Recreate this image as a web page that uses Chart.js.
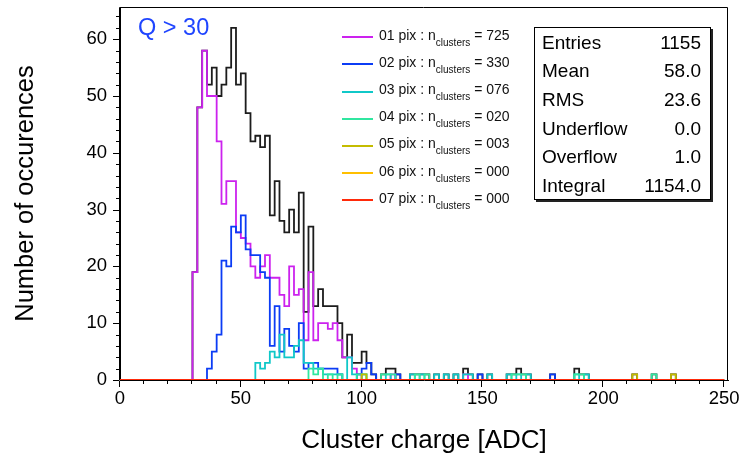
<!DOCTYPE html>
<html>
<head>
<meta charset="utf-8">
<script src="https://cdn.jsdelivr.net/npm/chart.js@4.4.1/dist/chart.umd.min.js"></script>
<style>
  html, body { margin: 0; padding: 0; background: #fff; }
  #wrap { position: relative; width: 744px; height: 466px; overflow: hidden; }
  #c { position: absolute; left: 0; top: 0; }
  .ov { font-family: "Liberation Sans", Arial, Helvetica, sans-serif; color: #000; }
  .qlabel { position: absolute; left: 138px; top: 16px; font-size: 23.5px; line-height: 23.5px; color: #1f45ff; white-space: nowrap; }
  .leg { position: absolute; left: 342px; width: 190px; height: 20px; }
  .leg .ln { position: absolute; left: 0; width: 31px; height: 0; border-top: 2px solid; }
  .leg .tx { position: absolute; left: 37px; font-size: 14px; line-height: 14px; white-space: nowrap; color: #111; }
  .leg .tx .sb { font-size: 10px; position: relative; top: 6px; }
  .stats { position: absolute; left: 534px; top: 27px; width: 175px; height: 171px; border: 1px solid #000;
           box-shadow: 2px 2px 0 #222; background: #fff; font-size: 19px; }
  .stats .row { position: absolute; left: 7px; right: 9px; height: 19px; line-height: 19px; white-space: nowrap; }
  .stats .row .v { position: absolute; right: 0; top: 0; }
</style>
</head>
<body>
<div id="wrap">
  <canvas id="c" width="744" height="466"></canvas>
  <div class="ov qlabel">Q &gt; 30</div>
  <div class="ov" id="legend"></div>
  <div class="ov stats" id="stats"></div>
</div>
<script>
// ---------------- data ----------------
const binWidth = 2;            // ADC units per bin
const nBins = 125;             // 0 .. 250 ADC
const coreFirstBin = 30;       // left edge of first bin in the core arrays (bins 30..98)

// counts per bin, bins 30-32, 32-34, ..., 98-100
const pix1Core  = [19,48,58,50,50,42,31,35,35,26,25,24,20,18,20,22,18,18,15,13,20,15,16,7,19,7,10,10,9,10,7,4,4,2,1];
const pix2Core  = [0,0,0,2,5,8,21,20,27,26,29,23,22,22,19,18,6,13,5,9,6,5,10,2,3,3,2,2,2,2,1,0,0,0,1];
const pix3Core  = [0,0,0,0,0,0,0,0,0,0,0,0,0,3,2,3,5,4,8,4,4,6,7,3,3,2,2,1,1,1,1,0,4,1,0];
const pix4Core  = [0,0,0,0,0,0,0,0,0,0,0,0,0,0,0,0,0,0,0,0,0,0,0,0,2,1,2,0,1,0,1,0,0,0,1];
const pix5Core  = [];
const pix6Core  = [];
const pix7Core  = [];
const totalCore = [19,48,58,52,55,50,52,55,62,52,54,47,42,43,41,43,29,35,28,26,30,26,33,12,27,13,16,13,13,13,10,4,8,3,3];

// isolated entries above 100 ADC: [bin left edge, count]
const pix1Tail  = [[112,1],[142,1]];
const pix2Tail  = [[100,2],[102,3],[104,1],[114,1],[148,1],[178,1]];
const pix3Tail  = [[100,1],[110,1],[120,1],[124,1],[130,1],[134,1],[138,1],[142,1],[144,1],[152,1],[160,1],[164,1],[168,1],[188,1],[192,1]];
const pix4Tail  = [[100,1],[108,1],[110,1],[112,1],[122,1],[126,1],[162,1],[164,1],[166,1],[188,1],[190,1],[220,1]];
const pix5Tail  = [[100,1],[212,1],[228,1]];
const pix6Tail  = [];
const pix7Tail  = [];
const totalTail = [[100,5],[102,3],[104,1],[108,1],[110,2],[112,2],[114,1],[120,1],[122,1],[124,1],[126,1],[130,1],[134,1],[138,1],[142,2],[144,1],[148,1],[152,1],[160,1],[162,1],[164,2],[166,1],[168,1],[178,1],[188,2],[190,1],[192,1],[212,1],[220,1],[228,1]];

const seriesNames    = ['01 pix','02 pix','03 pix','04 pix','05 pix','06 pix','07 pix'];
const clusterCounts  = ['725','330','076','020','003','000','000'];
const seriesColors   = ['#cc22ee','#0b3cf5','#10c8c8','#30e6a0','#c4bc00','#ffbf00','#ff2a0a'];
const totalColor     = '#1c1c1c';

const statsLabels = ['Entries','Mean','RMS','Underflow','Overflow','Integral'];
const statsValues = ['1155','58.0','23.6','0.0','1.0','1154.0'];

const xTicks = [0,50,100,150,200,250];          // labelled ticks
const yTicks = [0,10,20,30,40,50,60];
const xMinorStep = 10, yMinorStep = 2;           // unlabelled tick spacing
const xTitle = 'Cluster charge [ADC]';
const yTitle = 'Number of occurences';

// ---------------- build histograms ----------------
function buildHist(core, tail) {
  const h = new Array(nBins).fill(0);
  const off = coreFirstBin / binWidth;
  core.forEach((c, i) => { h[off + i] += c; });
  tail.forEach(([edge, c]) => { h[edge / binWidth] += c; });
  const pts = h.map((c, i) => ({ x: i * binWidth, y: c }));
  pts.push({ x: nBins * binWidth, y: h[nBins - 1] });
  return pts;
}
const cores = [pix1Core, pix2Core, pix3Core, pix4Core, pix5Core, pix6Core, pix7Core];
const tails = [pix1Tail, pix2Tail, pix3Tail, pix4Tail, pix5Tail, pix6Tail, pix7Tail];

const datasets = [];
for (let k = 6; k >= 0; k--) {
  datasets.push({ label: seriesNames[k], data: buildHist(cores[k], tails[k]),
    borderColor: seriesColors[k], borderWidth: 1.8, pointRadius: 0, stepped: 'before', fill: false, tension: 0 });
}
datasets.push({ label: 'total', data: buildHist(totalCore, totalTail),
  borderColor: totalColor, borderWidth: 1.8, pointRadius: 0, stepped: 'before', fill: false, tension: 0 });

const fam = '"Liberation Sans", Arial, Helvetica, sans-serif';
const xMax = 251.6, yMax = 65.67;

// frame and tick marks, positioned through the chart's scales
const frameTicks = {
  id: 'frameTicks',
  afterDraw(chart) {
    const c = chart.ctx, a = chart.chartArea;
    const xs = chart.scales.x, ys = chart.scales.y;
    c.save();
    c.globalAlpha = 1;
    c.globalCompositeOperation = 'source-over';
    c.setLineDash([]);
    c.strokeStyle = 'rgb(0,0,0)';
    c.lineWidth = 1;
    c.beginPath();
    // left, top, right edges of the frame
    c.moveTo(a.left - 0.5, a.bottom + 0.5);
    c.lineTo(a.left - 0.5, a.top + 0.5);
    c.lineTo(a.right - 0.5, a.top + 0.5);
    c.lineTo(a.right - 0.5, a.bottom + 0.5);
    // tick marks
    for (let v = 0; v <= xTicks[xTicks.length - 1]; v += xMinorStep) {
      const px = Math.round(xs.getPixelForValue(v)) - 0.5;
      const len = xTicks.includes(v) ? 6 : 3;
      c.moveTo(px, a.bottom + 1); c.lineTo(px, a.bottom + 1 + len);
    }
    for (let v = 0; v <= 64; v += yMinorStep) {
      const py = Math.round(ys.getPixelForValue(v)) + 0.5;
      const len = yTicks.includes(v) ? 6 : 3;
      c.moveTo(a.left - 1 - len, py); c.lineTo(a.left - 1, py);
    }
    c.stroke();
    c.restore();
  }
};

new Chart(document.getElementById('c'), {
  type: 'line',
  data: { datasets },
  options: {
    responsive: false,
    devicePixelRatio: 1,
    animation: false,
    parsing: false,
    layout: { padding: { top: 7, right: 16, left: 0, bottom: 0 } },
    plugins: { legend: { display: false }, tooltip: { enabled: false } },
    scales: {
      x: {
        type: 'linear', position: 'bottom', min: 0, max: xMax,
        afterBuildTicks: s => { s.ticks = xTicks.map(v => ({ value: v })); },
        afterFit: s => { s.height = 86; s.paddingLeft = 0; s.paddingRight = 0; },
        grid: { display: false, drawTicks: false },
        border: { display: true, color: 'rgb(0,0,0)', width: 1 },
        ticks: { font: { size: 18.5, family: fam }, color: '#000', padding: 8, maxRotation: 0, autoSkip: false },
        title: { display: true, text: xTitle, font: { size: 26, family: fam }, color: '#000', padding: { top: 0, bottom: 10 } }
      },
      y: {
        type: 'linear', position: 'left', min: 0, max: yMax,
        afterBuildTicks: s => { s.ticks = yTicks.map(v => ({ value: v })); },
        afterFit: s => { s.width = 120; s.paddingTop = 0; s.paddingBottom = 0; },
        grid: { display: false, drawTicks: false },
        border: { display: true, color: 'rgb(0,0,0)', width: 1 },
        ticks: { font: { size: 18.5, family: fam }, color: '#000', padding: 13, autoSkip: false },
        title: { display: true, text: yTitle, font: { size: 25.5, family: fam }, color: '#000', padding: { top: 11, bottom: 0 } }
      }
    }
  },
  plugins: [frameTicks]
});

// ---------------- legend (HTML, for the subscript) ----------------
const legendTop = 37.3, legendStep = 27.1;
const legEl = document.getElementById('legend');
seriesNames.forEach((name, k) => {
  const row = document.createElement('div');
  row.className = 'leg';
  const yLine = legendTop + k * legendStep;
  row.style.top = (yLine - 10) + 'px';
  const ln = document.createElement('span');
  ln.className = 'ln'; ln.style.top = '9px'; ln.style.borderTopColor = seriesColors[k];
  const tx = document.createElement('span');
  tx.className = 'tx'; tx.style.top = '0.8px';
  tx.innerHTML = name + ' : n<span class="sb">clusters</span> = ' + clusterCounts[k];
  row.appendChild(ln); row.appendChild(tx);
  legEl.appendChild(row);
});

// ---------------- statistics box ----------------
const stEl = document.getElementById('stats');
statsLabels.forEach((lab, i) => {
  const r = document.createElement('div');
  r.className = 'row';
  r.style.top = (4.5 + i * 28.7) + 'px';
  r.innerHTML = '<span>' + lab + '</span><span class="v">' + statsValues[i] + '</span>';
  stEl.appendChild(r);
});
</script>
</body>
</html>
